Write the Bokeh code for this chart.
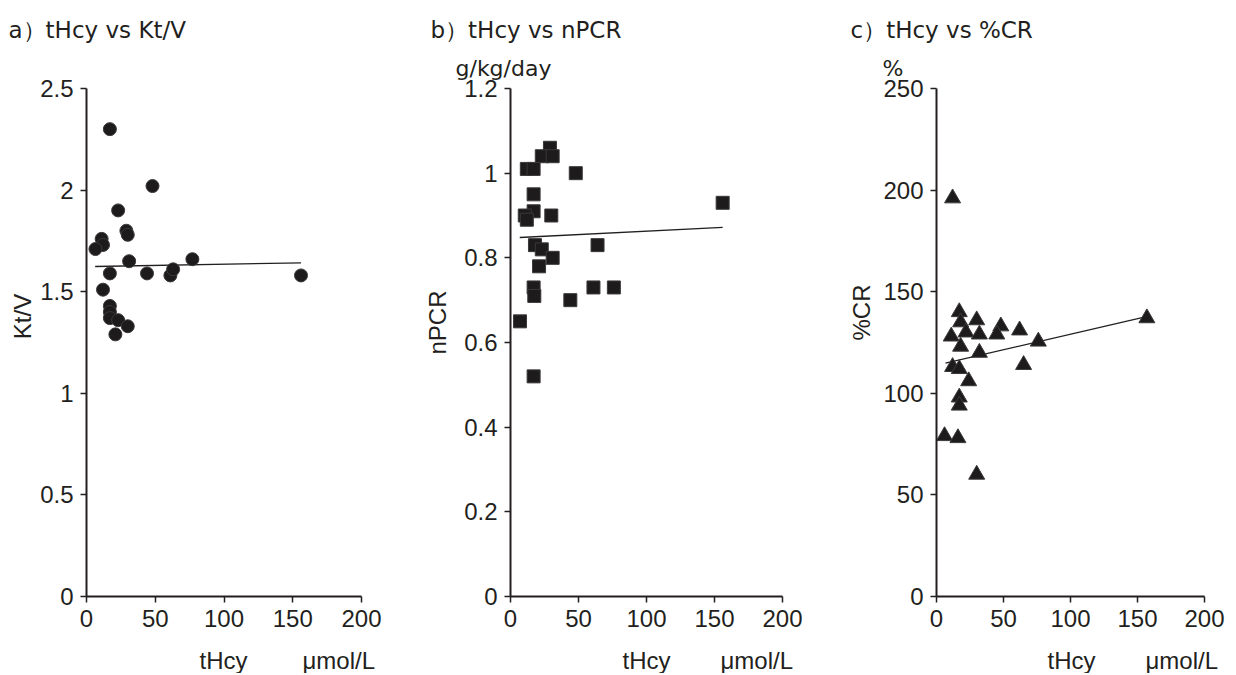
import math
from bokeh.plotting import figure
from bokeh.layouts import row
from bokeh.models import Range1d, FixedTicker, Label
from bokeh.embed import file_html
from bokeh.resources import INLINE

# ---------------- data ----------------
x_ticks = [0, 50, 100, 150, 200]
x_tick_labels = ["0", "50", "100", "150", "200"]

# a) tHcy vs Kt/V
ktv_x = [17, 48, 23, 29, 30, 11, 12, 6.5, 31, 77, 17, 44, 61, 63, 156, 12, 17, 17, 17, 23, 30, 21]
ktv_y = [2.30, 2.02, 1.90, 1.80, 1.78, 1.76, 1.73, 1.71, 1.65, 1.66, 1.59, 1.59, 1.58, 1.61, 1.58,
         1.51, 1.43, 1.40, 1.37, 1.36, 1.33, 1.29]
ktv_trend_x = [6.3, 156]
ktv_trend_y = [1.624, 1.642]
ktv_ticks = [0, 0.5, 1, 1.5, 2, 2.5]
ktv_tick_labels = ["0", "0.5", "1", "1.5", "2", "2.5"]

# b) tHcy vs nPCR
npcr_x = [29, 23, 31, 12, 17, 48, 17, 17, 10.5, 12, 30, 156, 18, 23, 64, 31, 21, 17, 17.5, 61, 76, 44, 7, 17]
npcr_y = [1.06, 1.04, 1.04, 1.01, 1.01, 1.00, 0.95, 0.91, 0.90, 0.89, 0.90, 0.93, 0.83, 0.82, 0.83,
          0.80, 0.78, 0.73, 0.71, 0.73, 0.73, 0.70, 0.65, 0.52]
npcr_trend_x = [6.8, 156]
npcr_trend_y = [0.848, 0.872]
npcr_ticks = [0, 0.2, 0.4, 0.6, 0.8, 1.0, 1.2]
npcr_tick_labels = ["0", "0.2", "0.4", "0.6", "0.8", "1", "1.2"]

# c) tHcy vs %CR
cr_x = [12, 17, 18, 30, 48, 11, 22, 32, 45, 62, 18, 76, 32, 12, 17, 65, 24, 17, 17, 6, 16, 30, 157]
cr_y = [196, 140, 135, 136, 133, 128, 130, 129, 129, 131, 123, 125.5, 120, 113, 112, 114, 106,
        98, 94, 79, 78, 60, 137]
cr_trend_x = [6.7, 155]
cr_trend_y = [114.8, 137.5]
cr_ticks = [0, 50, 100, 150, 200, 250]
cr_tick_labels = ["0", "50", "100", "150", "200", "250"]

TXT = "#231f20"
TICK_FONT = "Liberation Sans"
TITLE_FONT = "DejaVu Sans"
H = 673                 # canvas height
Y0_PAGE, Y1_PAGE = 596, 88   # page rows of y = 0 and y = max


def make_panel(fig_left, fig_w, x0_page, x1_page, xs, ys, tx, ty, yticks, ylabels, ymax,
               marker, msize, title, title_x, ylab, ylab_c, unit, unit_x, xl_x, mu_x):
    # map data to the canvas: whole canvas is the frame, axes sit at fixed locations
    sx = (x1_page - x0_page) / 200.0
    x0_loc = x0_page - fig_left
    xr = Range1d(-x0_loc / sx, (fig_w - x0_loc) / sx)
    sy = (Y0_PAGE - Y1_PAGE) / ymax
    y0_loc = H - Y0_PAGE
    yr = Range1d(-y0_loc / sy, (H - y0_loc) / sy)

    p = figure(width=fig_w, height=H, x_range=xr, y_range=yr,
               output_backend="svg", toolbar_location=None, tools="",
               min_border_left=0, min_border_right=0, min_border_top=0, min_border_bottom=0)
    p.outline_line_color = None
    p.grid.visible = False
    p.background_fill_color = "white"
    p.border_fill_color = "white"

    for ax, ticks, labels, bnds in ((p.xaxis[0], x_ticks, x_tick_labels, (0, 200)),
                                    (p.yaxis[0], yticks, ylabels, (0, ymax))):
        ax.fixed_location = 0
        ax.bounds = bnds
        ax.ticker = FixedTicker(ticks=ticks)
        ax.major_label_overrides = {t: l for t, l in zip(ticks, labels)}
        ax.axis_line_width = 2
        ax.axis_line_color = TXT
        ax.major_tick_line_color = TXT
        ax.major_tick_line_width = 1.5
        ax.major_tick_out = 6
        ax.major_tick_in = 0
        ax.minor_tick_line_color = None
        ax.major_label_text_font = TICK_FONT
        ax.major_label_text_font_size = "24px"
        ax.major_label_text_color = TXT
        ax.major_label_standoff = 7

    p.line(tx, ty, line_color=TXT, line_width=1.3)
    p.scatter(xs, ys, marker=marker, size=msize, fill_color="#1e1b1c",
              line_color="#3a3a3a", line_width=1)

    def lab(px, py, text, **kw):
        p.add_layout(Label(x=px - fig_left, y=H - py, x_units="screen", y_units="screen",
                           text=text, text_color=TXT, **kw))

    lab(title_x, 29, title, text_font=TITLE_FONT, text_font_size="23px",
        text_baseline="alphabetic")
    lab(ylab_c[0], ylab_c[1], ylab, angle=math.pi / 2, text_align="center",
        text_baseline="middle", text_font=TICK_FONT, text_font_size="24px")
    if unit:
        lab(unit_x, 68, unit, text_font=TITLE_FONT, text_font_size="22px",
            text_baseline="alphabetic")
    lab(xl_x, 660, "tHcy", text_font=TICK_FONT, text_font_size="24px",
        text_baseline="alphabetic")
    lab(mu_x, 660, "μmol/L", text_font=TICK_FONT, text_font_size="24px",
        text_baseline="alphabetic")
    return p


pa = make_panel(0, 421, 86, 361, ktv_x, ktv_y, ktv_trend_x, ktv_trend_y, ktv_ticks,
                ktv_tick_labels, 2.5, "circle", 13, "a）tHcy vs Kt/V", 8,
                "Kt/V", (22, 316), None, 0, 199, 302)
pb = make_panel(421, 425, 510, 782, npcr_x, npcr_y, npcr_trend_x, npcr_trend_y, npcr_ticks,
                npcr_tick_labels, 1.2, "square", 13, "b）tHcy vs nPCR", 430,
                "nPCR", (437, 322), "g/kg/day", 455, 622, 720)
pc = make_panel(846, 388, 936, 1204, cr_x, cr_y, cr_trend_x, cr_trend_y, cr_ticks,
                cr_tick_labels, 250, "triangle", 16, "c）tHcy vs %CR", 850,
                "%CR", (861, 312), "%", 882, 1047, 1145)

layout = row(pa, pb, pc)
open("out.html", "w").write(file_html(layout, INLINE))
